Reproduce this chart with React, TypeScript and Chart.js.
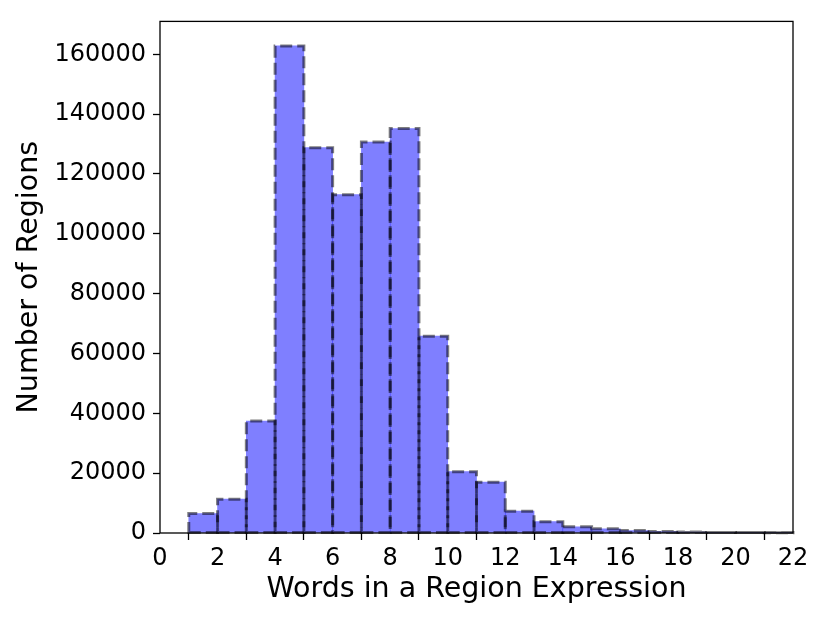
import React, { useEffect, useRef } from "react";
import { Chart, registerables } from "chart.js";

Chart.register(...registerables);

const binStarts = [1, 2, 3, 4, 5, 6, 7, 8, 9, 10, 11, 12, 13, 14, 15, 16, 17, 18, 19, 20, 21];
const counts = [6500, 11300, 37400, 162800, 128800, 113100, 130700, 135200, 65800, 20500, 17000, 7300, 3800, 2100, 1400, 800, 500, 300, 200, 150, 100];
const xTicks = [0, 2, 4, 6, 8, 10, 12, 14, 16, 18, 20, 22];
const yTicks = [0, 20000, 40000, 60000, 80000, 100000, 120000, 140000, 160000];

const FONT = "'DejaVu Sans', sans-serif";

const dashedBars = {
  id: "dashedBars",
  afterDatasetsDraw(chart: any) {
    const ctx = chart.ctx;
    const meta = chart.getDatasetMeta(0);
    ctx.save();
    ctx.strokeStyle = "rgba(0,0,0,0.5)";
    ctx.lineWidth = 3;
    ctx.setLineDash([12, 5]);
    for (const el of meta.data) {
      const p = el.getProps(["x", "y", "base", "width"], true);
      const l = p.x - p.width / 2;
      const r = p.x + p.width / 2;
      ctx.beginPath();
      ctx.moveTo(l, p.base);
      ctx.lineTo(r, p.base);
      ctx.lineTo(r, p.y);
      ctx.lineTo(l, p.y);
      ctx.closePath();
      ctx.stroke();
    }
    ctx.restore();
  },
  afterDraw(chart: any) {
    const { left, right, top, bottom } = chart.chartArea;
    const ctx = chart.ctx;
    ctx.save();
    ctx.strokeStyle = "#000";
    ctx.lineWidth = 1.3;
    ctx.strokeRect(left, top, right - left, bottom - top);
    ctx.restore();
  },
};

export default function App() {
  const ref = useRef<HTMLCanvasElement>(null);
  useEffect(() => {
    if (!ref.current) return;
    const chart = new Chart(ref.current, {
      type: "bar",
      data: {
        datasets: [
          {
            data: binStarts.map((s, i) => ({ x: s + 0.5, y: counts[i] })),
            backgroundColor: "rgba(0,0,255,0.5)",
            borderWidth: 0,
            barPercentage: 1,
            categoryPercentage: 1,
          },
        ],
      },
      plugins: [dashedBars],
      options: {
        animation: false,
        responsive: false,
        maintainAspectRatio: false,
        layout: { padding: { top: 19, right: 37, left: 0, bottom: 0 } },
        plugins: { legend: { display: false }, tooltip: { enabled: false } },
        scales: {
          x: {
            type: "linear",
            min: 0,
            max: 22,
            offset: false,
            afterBuildTicks: (s: any) => {
              s.ticks = xTicks.map((v) => ({ value: v }));
            },
            afterFit: (s: any) => {
              s.height = 90;
            },
            border: { display: false },
            grid: {
              display: true,
              drawOnChartArea: false,
              drawTicks: true,
              tickLength: 7,
              tickColor: "#000",
              tickWidth: 1.3,
            },
            ticks: {
              color: "#000",
              font: { family: FONT, size: 24 },
              padding: 4,
              maxRotation: 0,
              autoSkip: false,
            },
            title: {
              display: true,
              text: "Words in a Region Expression",
              color: "#000",
              font: { family: FONT, size: 28.5 },
              padding: { top: 0, bottom: 16 },
            },
          },
          y: {
            type: "linear",
            min: 0,
            max: 171000,
            afterBuildTicks: (s: any) => {
              s.ticks = yTicks.map((v) => ({ value: v }));
            },
            afterFit: (s: any) => {
              s.width = 160;
            },
            border: { display: false },
            grid: {
              display: true,
              drawOnChartArea: false,
              drawTicks: true,
              tickLength: 7,
              tickColor: "#000",
              tickWidth: 1.3,
            },
            ticks: {
              color: "#000",
              font: { family: FONT, size: 24 },
              padding: 7,
              autoSkip: false,
              callback: (v: any) => String(v),
            },
            title: {
              display: true,
              text: "Number of Regions",
              color: "#000",
              font: { family: FONT, size: 28.5 },
              padding: { top: 12, bottom: 0 },
            },
          },
        },
      },
    });
    return () => chart.destroy();
  }, []);
  return (
    <div style={{ position: "absolute", left: 0, top: 0, width: 830, height: 623, background: "#fff" }}>
      <canvas ref={ref} width={830} height={623} style={{ width: 830, height: 623 }} />
    </div>
  );
}
